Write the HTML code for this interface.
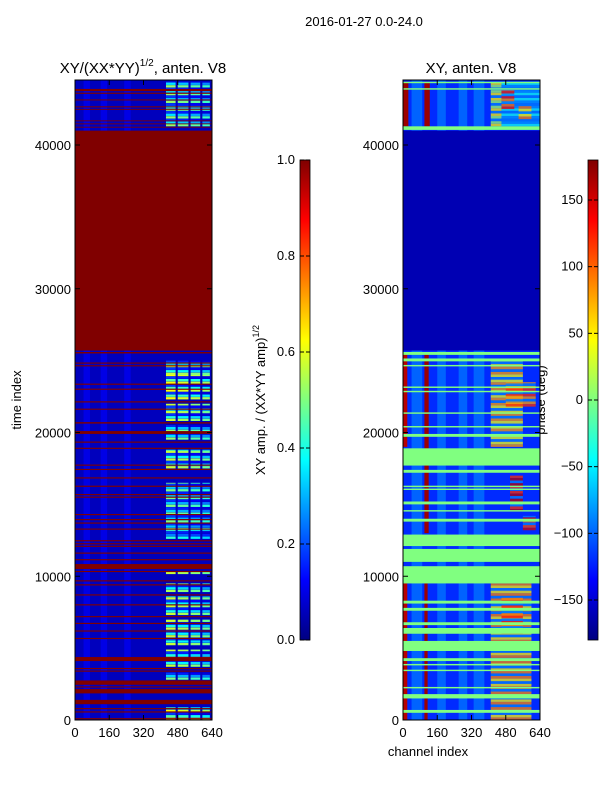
<!DOCTYPE html>
<html><head><meta charset="utf-8"><style>
body{margin:0;background:#fff;width:600px;height:800px;overflow:hidden}
svg text{font-family:"Liberation Sans",sans-serif;fill:#000}
</style></head><body>
<svg id="fig" width="600" height="800" xmlns="http://www.w3.org/2000/svg">
<rect width="600" height="800" fill="#fff"/>
<text x="364" y="26" font-size="13" text-anchor="middle">2016-01-27 0.0-24.0</text>
<text x="143" y="73" font-size="15" text-anchor="middle">XY/(XX*YY)<tspan font-size="10" dy="-7">1/2</tspan><tspan dy="7">, anten. V8</tspan></text>
<text x="471" y="73" font-size="15" text-anchor="middle">XY, anten. V8</text>
<text transform="translate(21,400) rotate(-90)" font-size="13" text-anchor="middle">time index</text>
<text x="428" y="756" font-size="13" text-anchor="middle">channel index</text>
<text transform="translate(265,400) rotate(-90)" font-size="13" text-anchor="middle">XY amp. / (XX*YY amp)<tspan font-size="9" dy="-6">1/2</tspan></text>
<text transform="translate(545,400) rotate(-90)" font-size="13" text-anchor="middle">phase (deg)</text>
<g id="gl"></g>
<g id="gr"></g>
<g id="ax"></g>
</svg>
<script>
const NS="http://www.w3.org/2000/svg";
const timeTicks=[0,10000,20000,30000,40000];
const chanTicks=[0,160,320,480,640];
const ampTicks=[0.0,0.2,0.4,0.6,0.8,1.0];
const phaseTicks=[-150,-100,-50,0,50,100,150];
const tMax=44522;
// left: red (fully coherent) bands [t0,t1]
const leftRed=[[25700,41000],[43750,43900],[43560,43640],[43100,43170],[42620,42690],[42450,42510],[41650,41710],[41440,41500],[41210,41270],
[25500,25600],[24790,24870],[24600,24680],[23320,23400],[22970,23050],[22090,22170],[21580,21660],[20620,20720],[19900,20100],[19290,19370],[18860,18940],
[17690,17770],[17390,17470],[16800,16880],[16220,16300],[15640,15720],[15460,15540],[14250,14330],[13900,13980],[13660,13740],[13240,13320],[12430,12510],
[12220,12300],[12040,12120],[11570,11650],[11110,11190],[10500,10850],[10290,10370],[9640,9720],[9360,9440],[8660,8740],[7970,8050],[7150,7230],[6680,6760],
[6150,6230],[5630,5710],[4100,4380],[3540,3620],[3360,3440],[2450,2750],[2260,2340],[1850,2150],[1100,1400],[750,830],[520,600],[50,130]];
// left: active rows (channels 420-630 lit) [t0,t1,level]
const leftActive=[[41300,44400,0.4],[24000,25000,0.45],[22300,24000,0.5],[20800,22000,0.45],[19500,20500,0.4],[17500,18800,0.45],
[13200,16500,0.38],[12600,13200,0.3],[10150,10300,0.45],[8900,9500,0.42],[7300,8600,0.45],[5200,7000,0.45],[3700,4900,0.45],[2800,3300,0.38],[0,900,0.5]];
// right: green (~0 deg phase) bands [t0,t1]
const rightGreen=[[44300,44400],[43850,43950],[41050,41300],[25400,25600],[24950,25150],[24600,24700],[23100,23200],[22800,22900],[21300,21400],[20350,20450],
[19700,19900],[17700,18900],[17200,17400],[16200,16300],[16000,16100],[15000,15200],[14500,14600],[13800,14000],[8100,8300],[12100,12900],[11000,11900],
[9500,10700],[7600,7800],[6600,6800],[6000,6400],[4800,5500],[4100,4300],[3800,3900],[3400,3500],[2200,2300],[1500,1800],[500,700]];
const rightNavy=[[25700,41000]];
// right: phase-wrapped red columns [ch0,ch1,t0,t1,value]
const rightCols=[[0,25,41300,44400,170],[100,125,41300,44400,170],[0,20,19000,25500,160],[100,120,13000,25500,170],[0,20,0,9500,160],[100,115,0,9500,170]];
// right: active region phases [ch0,ch1,t0,t1,value]
const rightActive=[[410,460,41300,44400,50],[460,640,41300,44400,-40],[460,520,42500,43800,140],[540,600,41800,42700,100],
[410,560,19000,25000,80],[480,620,21800,23500,120],[500,560,14500,17000,160],[560,620,13200,14200,150],[410,600,0,9500,90],[460,560,6000,8500,130]];

function jet(v){v=Math.max(0,Math.min(1,v));
 const r=Math.max(0,Math.min(1,1.5-Math.abs(4*v-3))),g=Math.max(0,Math.min(1,1.5-Math.abs(4*v-2))),b=Math.max(0,Math.min(1,1.5-Math.abs(4*v-1)));
 return `rgb(${Math.round(r*255)},${Math.round(g*255)},${Math.round(b*255)})`;}
function ph(p){return jet((p+180)/360);}
const Y0=720,YT=80;
function ty(t){return Y0-(t/tMax)*(Y0-YT);}
function cx(x0,c){return x0+c/640*137;}
function rect(g,x,y,w,h,fill){const r=document.createElementNS(NS,'rect');r.setAttribute('x',x);r.setAttribute('y',y);r.setAttribute('width',w);r.setAttribute('height',Math.max(h,0.8));r.setAttribute('fill',fill);g.appendChild(r);return r;}
function band(g,X,c0,c1,t0,t1,fill){return rect(g,cx(X,c0),ty(t1),cx(X,c1)-cx(X,c0),ty(t0)-ty(t1),fill);}
const STRIPE=180;

const gl=document.getElementById('gl'),gr=document.getElementById('gr'),ax=document.getElementById('ax');
const LX=75,RX=403;
// left
let b=band(gl,LX,0,640,0,tMax,jet(0.06));


[[40,70],[120,150],[230,260]].forEach(s=>{const r=band(gl,LX,s[0],s[1],0,tMax,jet(0.1));
 
 });
leftActive.forEach(a=>{
 [[425,470],[480,530],[540,585],[595,630]].forEach((s,i)=>{
  for(let t=a[0],k=0;t<a[1];t+=STRIPE,k++){
   const lv=(k%3==0)?a[2]+0.12:(k%3==1)?a[2]-0.05:0.18;
   const r=band(gl,LX,s[0],s[1],t,Math.min(a[1],t+STRIPE*0.9),jet(lv-i*0.03));
   
   
  }
 });
});
leftRed.forEach(a=>{const r=band(gl,LX,0,640,a[0],a[1],jet(1));
 
 });
// right
b=band(gr,RX,0,640,0,tMax,ph(-120));


[[40,90],[160,200],[260,300],[330,380]].forEach(s=>{const r=band(gr,RX,s[0],s[1],0,tMax,ph(-100));
 
 });
rightCols.forEach(a=>{const r=band(gr,RX,a[0],a[1],a[2],a[3],ph(a[4]));
 
 });
rightActive.forEach(a=>{
 for(let t=a[2],k=0;t<a[3];t+=STRIPE,k++){
  const v=(k%3==2)?-90:a[4]-(k%2)*40;
  const r=band(gr,RX,a[0],a[1],t,Math.min(a[3],t+STRIPE),ph(v));
  
  
  r.setAttribute('opacity','0.75');
 }
});
rightNavy.forEach(a=>{const r=band(gr,RX,0,640,a[0],a[1],jet(0.05));
 
 });
rightGreen.forEach(a=>{const r=band(gr,RX,0,640,a[0],a[1],ph(0));
 
 });

function line(x1,y1,x2,y2,w){const l=document.createElementNS(NS,'line');l.setAttribute('x1',x1);l.setAttribute('y1',y1);l.setAttribute('x2',x2);l.setAttribute('y2',y2);l.setAttribute('stroke','#000');l.setAttribute('stroke-width',w||1);ax.appendChild(l);return l;}
function text(x,y,s,anchor,name){const t=document.createElementNS(NS,'text');t.setAttribute('x',x);t.setAttribute('y',y);t.setAttribute('font-size','13');t.setAttribute('text-anchor',anchor);t.textContent=s;
 
 
 ax.appendChild(t);}
[LX,RX].forEach(X=>{
 const f=document.createElementNS(NS,'rect');f.setAttribute('x',X);f.setAttribute('y',YT);f.setAttribute('width',137);f.setAttribute('height',Y0-YT);f.setAttribute('fill','none');f.setAttribute('stroke','#000');
 
 
 ax.appendChild(f);
 timeTicks.forEach(t=>{const y=ty(t);line(X,y,X+5,y);line(X+137,y,X+132,y);text(X-4,y+5,String(t),'end','y-tick-label');});
 chanTicks.forEach(c=>{const x=cx(X,c);line(x,Y0,x,Y0-5);line(x,YT,x,YT+5);text(x,Y0+17,String(c),'middle','x-tick-label');});
});
// colorbars
function cbar(x,name){
 const d=document.createElementNS(NS,'defs');d.innerHTML=`<linearGradient id="g${name}" x1="0" y1="1" x2="0" y2="0">`+[0,0.125,0.375,0.625,0.875,1].map(v=>`<stop offset="${v}" stop-color="${jet(v)}"/>`).join('')+`</linearGradient>`;ax.appendChild(d);
 const r=document.createElementNS(NS,'rect');r.setAttribute('x',x);r.setAttribute('y',160);r.setAttribute('width',10);r.setAttribute('height',480);r.setAttribute('fill',`url(#g${name})`);r.setAttribute('stroke','#000');r.setAttribute('stroke-width','0.8');
 
 
 ax.appendChild(r);}
cbar(300,'amplitude-colorbar');cbar(588,'phase-colorbar');
ampTicks.forEach(v=>{const y=640-v*480;line(300,y,304,y);line(310,y,306,y);text(295,y+4,v.toFixed(1),'end','colorbar-tick-label');});
phaseTicks.forEach(v=>{const y=400-v*480/360;line(588,y,592,y);line(598,y,594,y);text(583,y+4,v<0?'\u2212'+(-v):String(v),'end','colorbar-tick-label');});
</script>
</body></html>
